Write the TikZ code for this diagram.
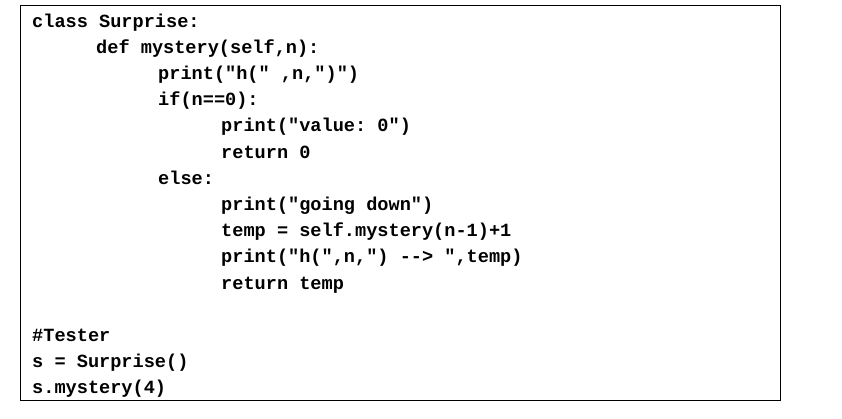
\documentclass[tikz,border=0pt]{standalone}
\usepackage{fontspec}
\setmonofont{Liberation Mono}
\begin{document}
\begin{tikzpicture}[x=1pt,y=-1pt,
  code/.style={anchor=base west,inner sep=0pt,font=\fontsize{18.6}{20}\ttfamily\bfseries}]
\useasboundingbox (0,0) rectangle (842,418);
\draw[line width=1pt] (20,5) rectangle (780,400);
\def\L#1#2#3{\node[code] (l#1) at (#2,{27+26.2*#1}) {\detokenize{#3}};}
\L{0}{32}{class Surprise:}
\L{1}{96}{def mystery(self,n):}
\L{2}{158}{print("h(" ,n,")")}
\L{3}{158}{if(n==0):}
\L{4}{221}{print("value: 0")}
\L{5}{221}{return 0}
\L{6}{158}{else:}
\L{7}{221}{print("going down")}
\L{8}{221}{temp = self.mystery(n-1)+1}
\L{9}{221}{print("h(",n,") --> ",temp)}
\L{10}{221}{return temp}
\node[code] (l12) at (32,{27+26.2*12}) {\#Tester};
\L{13}{32}{s = Surprise()}
\L{14}{32}{s.mystery(4)}
\end{tikzpicture}
\end{document}
